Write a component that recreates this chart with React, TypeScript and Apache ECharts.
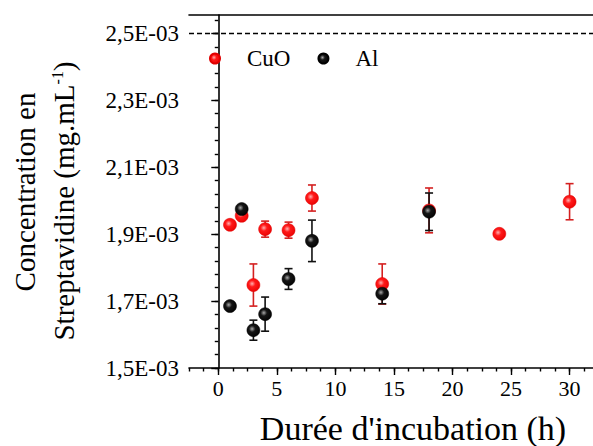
import React, { useEffect, useRef } from "react";
import * as echarts from "echarts";

// ---- Data ----
const cuoHours = [1, 2, 3, 4, 6, 8, 14, 18, 24, 30];
const cuoConc = [1.928e-3, 1.955e-3, 1.748e-3, 1.915e-3, 1.912e-3, 2.008e-3, 1.751e-3, 1.971e-3, 1.901e-3, 1.997e-3];
const cuoErr = [0.006e-3, 0.006e-3, 0.063e-3, 0.024e-3, 0.024e-3, 0.039e-3, 0.06e-3, 0.067e-3, 0.006e-3, 0.054e-3];

const alHours = [1, 2, 3, 4, 6, 8, 14, 18];
const alConc = [1.685e-3, 1.975e-3, 1.613e-3, 1.661e-3, 1.766e-3, 1.88e-3, 1.722e-3, 1.967e-3];
const alErr = [0.01e-3, 0.01e-3, 0.03e-3, 0.051e-3, 0.031e-3, 0.062e-3, 0.03e-3, 0.056e-3];

const xTicks = [0, 5, 10, 15, 20, 25, 30];
const xTickLabels = ["0", "5", "10", "15", "20", "25", "30"];
const yTicks = [1.5e-3, 1.7e-3, 1.9e-3, 2.1e-3, 2.3e-3, 2.5e-3];
const yTickLabels = ["1,5E-03", "1,7E-03", "1,9E-03", "2,1E-03", "2,3E-03", "2,5E-03"];
const thresholdValue = 2.5e-3;

const X_MIN = -2.5;
const X_MAX = 32;
const Y_MIN = 1.5e-3;
const Y_MAX = 2.555e-3;

const xMinor: number[] = [];
for (let i = 0; i <= 28; i++) xMinor.push(X_MIN + i * 1.25);
const yMinor: number[] = [];
for (let i = 0; i <= 26; i++) yMinor.push(Y_MIN + i * 0.04e-3);

const FONT = "Liberation Serif";

const redFill = new echarts.graphic.RadialGradient(0.4, 0.4, 0.7, [
  { offset: 0, color: "#ffb0b0" },
  { offset: 0.35, color: "#ff1a1a" },
  { offset: 1, color: "#e80000" },
]);
const blackFill = new echarts.graphic.RadialGradient(0.4, 0.4, 0.7, [
  { offset: 0, color: "#a8a8a8" },
  { offset: 0.35, color: "#151515" },
  { offset: 1, color: "#000000" },
]);

function errorBarSeries(name: string, xs: number[], ys: number[], es: number[], color: string, z: number) {
  return {
    type: "custom",
    name,
    z,
    xAxisIndex: 0,
    yAxisIndex: 0,
    data: xs.map((x, i) => [x, ys[i], es[i]]),
    encode: { x: 0, y: 1 },
    silent: true,
    renderItem: (params: any, api: any) => {
      const x = api.value(0);
      const y = api.value(1);
      const e = api.value(2);
      const top = api.coord([x, y + e]);
      const bot = api.coord([x, y - e]);
      const hw = 4;
      const style = { stroke: color, lineWidth: 1.6 };
      return {
        type: "group",
        children: [
          { type: "line", shape: { x1: top[0], y1: top[1], x2: bot[0], y2: bot[1] }, style },
          { type: "line", shape: { x1: top[0] - hw, y1: top[1], x2: top[0] + hw, y2: top[1] }, style },
          { type: "line", shape: { x1: bot[0] - hw, y1: bot[1], x2: bot[0] + hw, y2: bot[1] }, style },
        ],
      };
    },
  };
}

export default function App() {
  const ref = useRef<HTMLDivElement>(null);
  useEffect(() => {
    if (!ref.current) return;
    const chart = echarts.init(ref.current, null, { renderer: "svg" });
    const axisLine = { show: true, lineStyle: { color: "#000", width: 1.6 } };
    const tickStyle = { color: "#000", width: 1.4 };
    chart.setOption({
      animation: false,
      backgroundColor: "#fff",
      grid: { left: 189, right: 0, top: 15, bottom: 78, containLabel: false },
      legend: {
        data: ["CuO", "Al"],
        left: 204,
        top: 42,
        icon: "circle",
        itemWidth: 10,
        itemHeight: 10,
        itemGap: 27,
        textStyle: { fontFamily: FONT, fontSize: 23, color: "#000", padding: [0, 0, 0, 22] },
      },
      xAxis: [
        {
          type: "value",
          min: X_MIN,
          max: X_MAX,
          position: "bottom",
          axisLine,
          splitLine: { show: false },
          axisTick: { show: true, customValues: xTicks, length: 7, inside: false, lineStyle: tickStyle },
          axisLabel: {
            customValues: xTicks,
            margin: 9,
            fontFamily: FONT,
            fontSize: 22,
            color: "#000",
            formatter: (v: number) => {
              const i = xTicks.findIndex((t) => Math.abs(t - v) < 1e-6);
              return i >= 0 ? xTickLabels[i] : "";
            },
          },
        },
        {
          type: "value",
          min: X_MIN,
          max: X_MAX,
          position: "bottom",
          axisLine: { show: false },
          splitLine: { show: false },
          axisTick: { show: true, customValues: xMinor, length: 3.5, lineStyle: tickStyle },
          axisLabel: { show: false },
        },
        {
          type: "value",
          min: X_MIN,
          max: X_MAX,
          position: "top",
          axisLine,
          splitLine: { show: false },
          axisTick: { show: false },
          axisLabel: { show: false },
        },
      ],
      yAxis: [
        {
          type: "value",
          min: Y_MIN,
          max: Y_MAX,
          position: "left",
          axisLine,
          splitLine: { show: false },
          axisTick: { show: true, customValues: yTicks, length: 7, lineStyle: tickStyle },
          axisLabel: {
            customValues: yTicks,
            margin: 10,
            fontFamily: FONT,
            fontSize: 23,
            color: "#000",
            formatter: (v: number) => {
              const i = yTicks.findIndex((t) => Math.abs(t - v) < 1e-9);
              return i >= 0 ? yTickLabels[i] : "";
            },
          },
        },
        {
          type: "value",
          min: Y_MIN,
          max: Y_MAX,
          position: "left",
          axisLine: { show: false },
          splitLine: { show: false },
          axisTick: { show: true, customValues: yMinor, length: 3.5, lineStyle: tickStyle },
          axisLabel: { show: false },
        },
      ],
      graphic: [
        {
          type: "text",
          x: 25,
          y: 192,
          rotation: Math.PI / 2,
          style: {
            text: "Concentration en",
            fontFamily: FONT,
            fontSize: 29,
            fill: "#000",
            textAlign: "center",
            textVerticalAlign: "middle",
          },
        },
        {
          type: "text",
          x: 64,
          y: 201,
          rotation: Math.PI / 2,
          style: {
            text: "{a|Streptavidine (mg.mL}{s|-1}{a|)}",
            textAlign: "center",
            textVerticalAlign: "middle",
            rich: {
              a: { fontFamily: FONT, fontSize: 29, fill: "#000", color: "#000", verticalAlign: "bottom" },
              s: { fontFamily: FONT, fontSize: 16, fill: "#000", color: "#000", verticalAlign: "top" },
            },
          },
        },
        {
          type: "text",
          x: 413,
          y: 428,
          style: {
            text: "Durée d'incubation (h)",
            fontFamily: FONT,
            fontSize: 34,
            fill: "#000",
            textAlign: "center",
            textVerticalAlign: "middle",
          },
        },
      ],
      series: [
        {
          type: "line",
          name: "threshold",
          z: 1,
          silent: true,
          symbol: "none",
          xAxisIndex: 0,
          yAxisIndex: 0,
          lineStyle: { color: "#000", type: [5, 3], width: 1.5 },
          data: [
            [X_MIN, thresholdValue],
            [X_MAX, thresholdValue],
          ],
        },
        errorBarSeries("CuO-err", cuoHours, cuoConc, cuoErr, "#d42020", 2),
        errorBarSeries("Al-err", alHours, alConc, alErr, "#111", 3),
        {
          type: "scatter",
          name: "CuO",
          z: 4,
          symbol: "circle",
          symbolSize: 13,
          itemStyle: { color: redFill, borderColor: "#e00000", borderWidth: 0.5, opacity: 1 },
          data: cuoHours.map((x, i) => [x, cuoConc[i]]),
        },
        {
          type: "scatter",
          name: "Al",
          z: 5,
          symbol: "circle",
          symbolSize: 13,
          itemStyle: { color: blackFill, borderColor: "#000", borderWidth: 0.5, opacity: 1 },
          data: alHours.map((x, i) => [x, alConc[i]]),
        },
      ],
    });
    return () => chart.dispose();
  }, []);
  return (
    <div
      ref={ref}
      style={{ position: "fixed", left: 0, top: 0, width: 593, height: 446, background: "#fff" }}
    />
  );
}
